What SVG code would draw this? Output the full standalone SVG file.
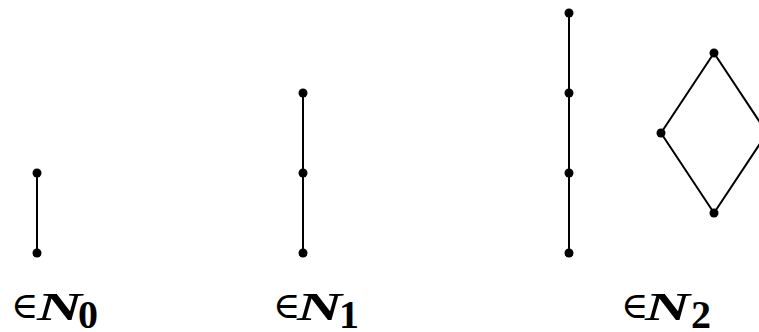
<svg xmlns="http://www.w3.org/2000/svg" width="759" height="332" viewBox="0 0 759 332">
<style>
.e{stroke:#000;stroke-width:2;fill:none}
.d{fill:#000}
.el{font-family:"DejaVu Serif","Liberation Serif",serif;font-size:37px}
.n{font-family:"Liberation Serif",serif;font-style:italic;font-weight:bold;font-size:41px}
.s{font-family:"Liberation Serif",serif;font-weight:bold;font-size:40px}
</style>
<rect width="759" height="332" fill="#fff"/>
<g id="connectors">
<line class="e" x1="37" y1="173" x2="37" y2="253"/>
<line class="e" x1="303" y1="93" x2="303" y2="253"/>
<line class="e" x1="569" y1="13" x2="569" y2="253"/>
<polygon class="e" points="714,53 661,133 714,213 767,133"/>
</g>
<g id="n0a"><circle class="d" cx="37" cy="173" r="4.5"/></g>
<g id="n0b"><circle class="d" cx="37" cy="253" r="4.5"/></g>
<g id="n1a"><circle class="d" cx="303" cy="93" r="4.5"/></g>
<g id="n1b"><circle class="d" cx="303" cy="173" r="4.5"/></g>
<g id="n1c"><circle class="d" cx="303" cy="253" r="4.5"/></g>
<g id="n2a"><circle class="d" cx="569" cy="13" r="4.5"/></g>
<g id="n2b"><circle class="d" cx="569" cy="93" r="4.5"/></g>
<g id="n2c"><circle class="d" cx="569" cy="173" r="4.5"/></g>
<g id="n2d"><circle class="d" cx="569" cy="253" r="4.5"/></g>
<g id="n3a"><circle class="d" cx="714" cy="53" r="4.5"/></g>
<g id="n3b"><circle class="d" cx="661" cy="133" r="4.5"/></g>
<g id="n3c"><circle class="d" cx="714" cy="213" r="4.5"/></g>
<g id="n3d"><circle class="d" cx="767" cy="133" r="4.5"/></g>
<g id="label0">
<text class="el" x="11" y="318">∈</text>
<text class="n" x="37" y="320" textLength="45" lengthAdjust="spacingAndGlyphs">N</text>
<text class="s" x="78" y="328">0</text>
</g>
<g id="label1">
<text class="el" x="273" y="318">∈</text>
<text class="n" x="297" y="320" textLength="45" lengthAdjust="spacingAndGlyphs">N</text>
<text class="s" x="339" y="328">1</text>
</g>
<g id="label2">
<text class="el" x="621" y="318">∈</text>
<text class="n" x="645" y="320" textLength="45" lengthAdjust="spacingAndGlyphs">N</text>
<text class="s" x="691" y="328">2</text>
</g>
</svg>
